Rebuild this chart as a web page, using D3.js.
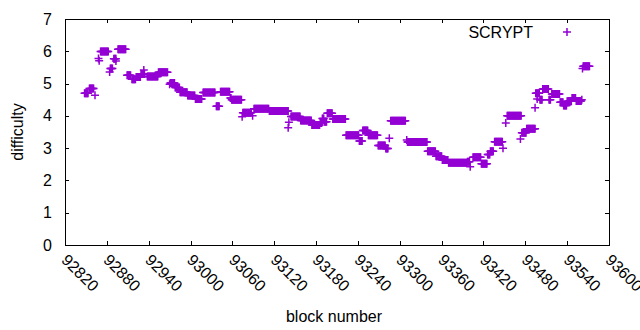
<!DOCTYPE html>
<html>
<head>
<meta charset="utf-8">
<script src="https://cdn.jsdelivr.net/npm/d3@7"></script>
<style>
body { margin: 0; background: #fff; }
svg text { font-family: "Liberation Sans", Arial, sans-serif; font-size: 16px; fill: #000; }
.axis path, .axis line { shape-rendering: crispEdges; stroke: #000; }
</style>
</head>
<body>
<svg width="640" height="330"></svg>
<script>
var seriesName = "SCRYPT";
var xTitle = "block number";
var yTitle = "difficulty";

// runs of blocks sharing one difficulty value (single outliers have start == end)
var runStart = [92848, 92855, 92863, 92868, 92869, 92871, 92884, 92885, 92890, 92893,
    92896, 92909, 92916, 92922, 92929, 92933, 92938, 92954, 92970, 92971,
    92978, 92985, 92996, 93007, 93018, 93037, 93043, 93057, 93059, 93074,
    93075, 93089, 93091, 93113, 93140, 93141, 93144, 93158, 93174, 93186,
    93189, 93192, 93196, 93204, 93223, 93242, 93247, 93255, 93269, 93280,
    93285, 93287, 93310, 93311, 93340, 93352, 93361, 93370, 93397, 93401,
    93405, 93417, 93426, 93430, 93436, 93448, 93452, 93454, 93473, 93475,
    93482, 93494, 93495, 93497, 93501, 93505, 93514, 93518, 93530, 93535,
    93540, 93547, 93553, 93561, 93562, 93563];
var runEnd = [92853, 92861, 92863, 92868, 92869, 92882, 92884, 92888, 92893, 92893,
    92907, 92914, 92921, 92928, 92934, 92933, 92953, 92967, 92970, 92977,
    92984, 92995, 93006, 93016, 93035, 93041, 93056, 93058, 93073, 93074,
    93087, 93089, 93112, 93140, 93140, 93141, 93157, 93173, 93185, 93188,
    93191, 93195, 93203, 93222, 93241, 93246, 93254, 93268, 93279, 93283,
    93285, 93308, 93310, 93339, 93351, 93360, 93369, 93396, 93400, 93401,
    93416, 93425, 93429, 93434, 93447, 93448, 93452, 93474, 93473, 93481,
    93494, 93494, 93500, 93497, 93504, 93513, 93516, 93529, 93534, 93539,
    93546, 93552, 93560, 93561, 93562, 93572];
var runDiff = [4.70, 4.85, 4.64, 5.78, 5.71, 5.99, 5.36, 5.47, 5.77, 5.70,
    6.06, 5.26, 5.13, 5.20, 5.30, 5.42, 5.22, 5.35, 4.98, 5.02,
    4.88, 4.73, 4.63, 4.52, 4.72, 4.30, 4.75, 4.55, 4.50, 3.97,
    4.10, 4.00, 4.22, 4.15, 3.63, 3.80, 3.98, 3.86, 3.72, 3.78,
    3.92, 3.82, 4.08, 3.90, 3.40, 3.22, 3.55, 3.40, 3.08, 2.99,
    3.31, 3.85, 3.25, 3.19, 2.90, 2.75, 2.63, 2.55, 2.58, 2.42,
    2.72, 2.52, 2.80, 2.90, 3.20, 3.00, 3.78, 4.00, 3.28, 3.48,
    3.60, 4.25, 4.70, 4.52, 4.50, 4.83, 4.50, 4.68, 4.42, 4.32,
    4.45, 4.55, 4.46, 4.50, 5.47, 5.54];

var xTicks = [92820, 92880, 92940, 93000, 93060, 93120, 93180, 93240, 93300, 93360, 93420, 93480, 93540, 93600];
var yTicks = [0, 1, 2, 3, 4, 5, 6, 7];

var color = "#9400d3";
var margin = { top: 19, right: 31, bottom: 85, left: 65 };
var svg = d3.select("svg");
var width = +svg.attr("width") - margin.left - margin.right;
var height = +svg.attr("height") - margin.top - margin.bottom;
var g = svg.append("g")
    .attr("transform", "translate(" + margin.left + "," + margin.top + ")");

var x = d3.scaleLinear().domain([xTicks[0], xTicks[xTicks.length - 1]]).range([0, width]);
var y = d3.scaleLinear().domain([yTicks[0], yTicks[yTicks.length - 1]]).range([height, 0]);

// one point per block
var points = [];
runStart.forEach(function (s, i) {
    for (var b = s; b <= runEnd[i]; b++) points.push({ block: b, diff: runDiff[i] });
});

// border with inward ticks on all four sides
g.append("g")
    .attr("class", "axis axis--x")
    .attr("transform", "translate(0," + height + ")")
    .call(d3.axisBottom(x).tickValues(xTicks).tickFormat(d3.format("d")).tickSize(-4).tickSizeOuter(0))
    .selectAll("text")
    .attr("x", 0)
    .attr("y", 0)
    .attr("dy", "0.35em")
    .attr("text-anchor", "start")
    .attr("transform", "translate(-1,12) rotate(45)");
g.append("g")
    .attr("class", "axis")
    .call(d3.axisTop(x).tickValues(xTicks).tickFormat("").tickSize(-4).tickSizeOuter(0));
g.append("g")
    .attr("class", "axis axis--y")
    .call(d3.axisLeft(y).tickValues(yTicks).tickFormat(d3.format("d")).tickSize(-4).tickSizeOuter(0).tickPadding(13));
g.append("g")
    .attr("class", "axis")
    .attr("transform", "translate(" + width + ",0)")
    .call(d3.axisRight(y).tickValues(yTicks).tickFormat("").tickSize(-4).tickSizeOuter(0));

var plus = "M-4,0H4M0,-4V4";
g.selectAll(".pt")
    .data(points)
    .enter().append("path")
    .attr("class", "pt")
    .attr("d", plus)
    .attr("transform", function (d) { return "translate(" + x(d.block) + "," + y(d.diff) + ")"; })
    .attr("fill", "none")
    .attr("stroke", color)
    .attr("stroke-width", 1.5);

// legend
svg.append("text")
    .attr("x", 533).attr("y", 32)
    .attr("dy", "0.35em")
    .attr("text-anchor", "end")
    .text(seriesName);
svg.append("path")
    .attr("d", plus)
    .attr("transform", "translate(567,32)")
    .attr("fill", "none")
    .attr("stroke", color)
    .attr("stroke-width", 1.5);

// axis titles
svg.append("text")
    .attr("transform", "translate(17," + (margin.top + height / 2) + ") rotate(-90)")
    .attr("dy", "0.35em")
    .attr("text-anchor", "middle")
    .text(yTitle);
svg.append("text")
    .attr("x", 334).attr("y", 316)
    .attr("dy", "0.35em")
    .attr("text-anchor", "middle")
    .text(xTitle);
</script>
</body>
</html>
